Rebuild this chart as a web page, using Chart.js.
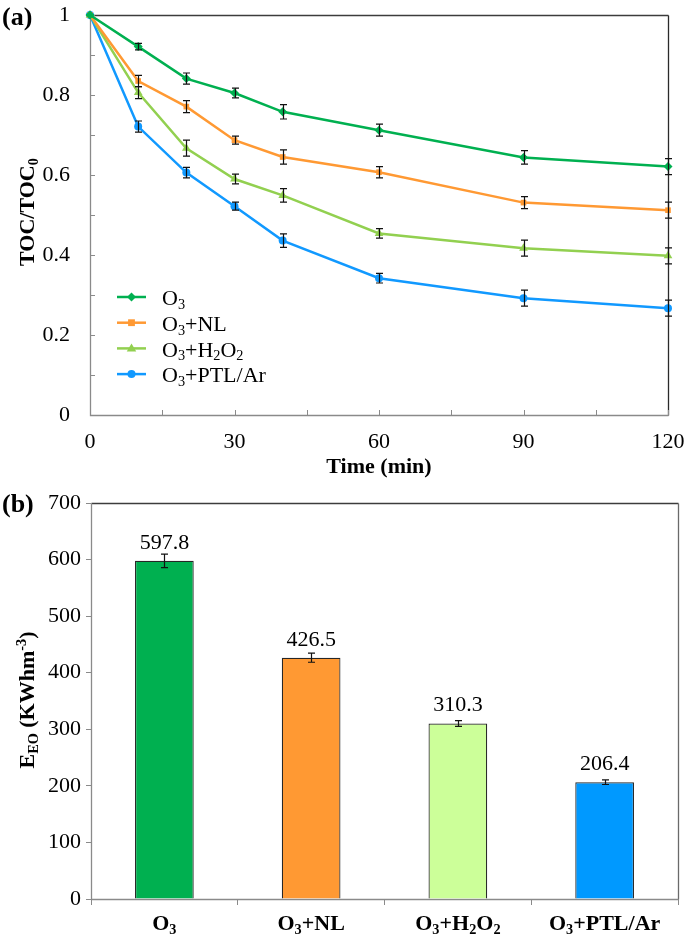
<!DOCTYPE html>
<html><head><meta charset="utf-8">
<script src="https://cdn.jsdelivr.net/npm/chart.js@4/dist/chart.umd.min.js"></script>
<style>
html,body{margin:0;padding:0;background:#fff;width:685px;height:935px;overflow:hidden}
#wa{position:absolute;left:0;top:0;width:685px;height:480px}
#wb{position:absolute;left:0;top:480px;width:685px;height:455px}
</style></head><body>
<div id="wa"><canvas id="ca"></canvas></div>
<div id="wb"><canvas id="cb"></canvas></div>
<script>
// ---------- data ----------
const timeMin = [0, 10, 20, 30, 40, 60, 90, 120];
const seriesNames = ['O_{3}', 'O_{3}+NL', 'O_{3}+H_{2}O_{2}', 'O_{3}+PTL/Ar'];
const tocO3      = [1, 0.921, 0.841, 0.805, 0.758, 0.712, 0.644, 0.621];
const tocO3Err   = [0, 0.008, 0.014, 0.012, 0.018, 0.015, 0.017, 0.020];
const tocNL      = [1, 0.835, 0.771, 0.687, 0.645, 0.607, 0.531, 0.512];
const tocNLErr   = [0, 0.014, 0.015, 0.010, 0.018, 0.014, 0.015, 0.020];
const tocH2O2    = [1, 0.806, 0.667, 0.590, 0.549, 0.454, 0.417, 0.398];
const tocH2O2Err = [0, 0.015, 0.020, 0.012, 0.017, 0.012, 0.020, 0.020];
const tocPTL     = [1, 0.721, 0.606, 0.522, 0.436, 0.342, 0.292, 0.267];
const tocPTLErr  = [0, 0.014, 0.013, 0.010, 0.017, 0.012, 0.020, 0.020];
const eeoCategories = ['O_{3}', 'O_{3}+NL', 'O_{3}+H_{2}O_{2}', 'O_{3}+PTL/Ar'];
const eeoValues = [597.8, 426.5, 310.3, 206.4];
const eeoErr    = [12, 8, 5, 4];
const titleA_x = 'Time (min)';
const titleA_y = 'TOC/TOC_{0}';
const titleB_y = 'E_{EO} (KWhm^{-3})';
const panelA = '(a)', panelB = '(b)';

// ---------- styles ----------
const FONT = '"Liberation Serif","Times New Roman",serif';
const lineColors = ['#00B050', '#FF9933', '#92D050', '#1199FF'];
const pointStyles = ['rectRot', 'rect', 'triangle', 'circle'];
const pointRadii = [4.5, 4, 5, 4];
const barColors = ['#00B050', '#FF9933', '#CCFF99', '#0099FF'];

function parseRich(s) {
  const out = []; const re = /(_|\^)\{([^}]*)\}/g; let last = 0, m;
  while ((m = re.exec(s))) {
    if (m.index > last) out.push({t: s.slice(last, m.index), k: 'n'});
    out.push({t: m[2], k: m[1] === '_' ? 'sub' : 'sup'});
    last = re.lastIndex;
  }
  if (last < s.length) out.push({t: s.slice(last), k: 'n'});
  return out;
}
function richWidth(ctx, segs, size, weight) {
  let w = 0;
  for (const s of segs) {
    ctx.font = weight + ' ' + (s.k === 'n' ? size : size * 0.65) + 'px ' + FONT;
    w += ctx.measureText(s.t).width;
  }
  return w;
}
// draws rich text; y is the visual middle of capitals
function drawRich(ctx, str, x, y, size, weight, align) {
  const segs = parseRich(str);
  const w = richWidth(ctx, segs, size, weight);
  let cx = align === 'center' ? x - w / 2 : (align === 'right' ? x - w : x);
  const base = y + size * 0.33;
  ctx.textAlign = 'left'; ctx.textBaseline = 'alphabetic'; ctx.fillStyle = '#000';
  for (const s of segs) {
    const sz = s.k === 'n' ? size : size * 0.65;
    ctx.font = weight + ' ' + sz + 'px ' + FONT;
    const by = s.k === 'sub' ? base + size * 0.17 : (s.k === 'sup' ? base - size * 0.38 : base);
    ctx.fillText(s.t, cx, by);
    cx += ctx.measureText(s.t).width;
  }
}
function drawMarker(ctx, style, r, x, y, color) {
  ctx.save(); ctx.fillStyle = color; ctx.beginPath();
  if (style === 'rectRot') { ctx.moveTo(x, y - r); ctx.lineTo(x + r, y); ctx.lineTo(x, y + r); ctx.lineTo(x - r, y); }
  else if (style === 'rect') { ctx.rect(x - r * 0.85, y - r * 0.85, r * 1.7, r * 1.7); }
  else if (style === 'triangle') { ctx.moveTo(x, y - r); ctx.lineTo(x + r * 0.95, y + r * 0.6); ctx.lineTo(x - r * 0.95, y + r * 0.6); }
  else { ctx.arc(x, y, r, 0, Math.PI * 2); }
  ctx.closePath(); ctx.fill(); ctx.restore();
}

// error bars drawn through the scales
const errorBarPlugin = {
  id: 'errbars',
  afterDatasetsDraw(chart) {
    const ctx = chart.ctx; const ys = chart.scales.y;
    ctx.save(); ctx.strokeStyle = '#111'; ctx.lineWidth = 1.2;
    chart.data.datasets.forEach((ds, di) => {
      if (!ds.errors) return;
      const meta = chart.getDatasetMeta(di);
      meta.data.forEach((el, i) => {
        const e = ds.errors[i]; if (!e) return;
        const v = typeof ds.data[i] === 'object' ? ds.data[i].y : ds.data[i];
        const x = Math.round(el.x) + 0.5, y1 = ys.getPixelForValue(v - e), y2 = ys.getPixelForValue(v + e);
        ctx.beginPath();
        ctx.moveTo(x, y1); ctx.lineTo(x, y2);
        ctx.moveTo(x - 3.5, y1); ctx.lineTo(x + 3.5, y1);
        ctx.moveTo(x - 3.5, y2); ctx.lineTo(x + 3.5, y2);
        ctx.stroke();
      });
    });
    ctx.restore();
  }
};

function frame(ctx, a, leftCol, topCol, rightCol) {
  ctx.save(); ctx.lineWidth = 1.3;
  const L = Math.round(a.left) + 0.5, R = Math.round(a.right) + 0.5, T = Math.round(a.top) + 0.5, B = Math.round(a.bottom) + 0.5;
  ctx.strokeStyle = topCol; ctx.beginPath(); ctx.moveTo(L, T); ctx.lineTo(R, T); ctx.stroke();
  ctx.strokeStyle = rightCol; ctx.beginPath(); ctx.moveTo(R, T); ctx.lineTo(R, B); ctx.stroke();
  ctx.strokeStyle = leftCol; ctx.beginPath(); ctx.moveTo(L, T); ctx.lineTo(L, B); ctx.lineTo(R, B); ctx.stroke();
  ctx.restore();
}
function noPad(s) { s.paddingLeft = 0; s.paddingRight = 0; s.paddingTop = 0; s.paddingBottom = 0; }

// ---------- chart (a) ----------
const seriesA = [tocO3, tocNL, tocH2O2, tocPTL];
const errsA = [tocO3Err, tocNLErr, tocH2O2Err, tocPTLErr];
const frameA = {
  id: 'frameA',
  beforeDatasetsDraw(chart) {
    const ctx = chart.ctx, a = chart.chartArea, xs = chart.scales.x, ys = chart.scales.y;
    frame(ctx, a, '#8a8a8a', '#3c3c3c', '#2a2a2a');
    ctx.save(); ctx.strokeStyle = '#8a8a8a'; ctx.lineWidth = 1;
    for (let v = 0.1; v < 1.0001; v += 0.1) {
      const y = Math.round(ys.getPixelForValue(v)) + 0.5;
      ctx.beginPath(); ctx.moveTo(a.left, y); ctx.lineTo(a.left + 5, y); ctx.stroke();
    }
    for (let t = 15; t <= 120; t += 15) {
      const x = Math.round(xs.getPixelForValue(t)) + 0.5;
      ctx.beginPath(); ctx.moveTo(x, a.bottom); ctx.lineTo(x, a.bottom - 5); ctx.stroke();
    }
    ctx.restore();
  },
  afterDraw(chart) {
    const ctx = chart.ctx, a = chart.chartArea;
    // legend
    chart.data.datasets.forEach((ds, i) => {
      const y = 297 + 25.7 * i;
      ctx.save(); ctx.strokeStyle = ds.borderColor; ctx.lineWidth = 2.5;
      ctx.beginPath(); ctx.moveTo(117, y); ctx.lineTo(146, y); ctx.stroke(); ctx.restore();
      drawMarker(ctx, ds.pointStyle, ds.pointRadius, 131.5, y, ds.borderColor);
      drawRich(ctx, seriesNames[i], 162, y + 1, 22, 'normal', 'left');
    });
    // titles
    drawRich(ctx, titleA_x, (a.left + a.right) / 2, 466, 22, 'bold', 'center');
    ctx.save(); ctx.translate(27, 212); ctx.rotate(-Math.PI / 2);
    drawRich(ctx, titleA_y, 0, 0, 22, 'bold', 'center'); ctx.restore();
    drawRich(ctx, panelA, 2, 16, 26, 'bold', 'left');
  }
};

new Chart(document.getElementById('ca'), {
  type: 'line',
  data: {
    datasets: seriesA.map((vals, i) => ({
      label: seriesNames[i].replace(/[_^]\{([^}]*)\}/g, '$1'),
      data: vals.map((v, j) => ({x: timeMin[j], y: v})),
      errors: errsA[i],
      borderColor: lineColors[i], backgroundColor: lineColors[i],
      borderWidth: 2.5, pointStyle: pointStyles[i], pointRadius: pointRadii[i],
      pointBorderWidth: 0, tension: 0, clip: false
    }))
  },
  options: {
    responsive: true, maintainAspectRatio: false, animation: false,
    layout: {padding: {top: 15, right: 17, left: 0, bottom: 0}},
    plugins: {legend: {display: false}, tooltip: {enabled: false}},
    scales: {
      x: {type: 'linear', min: 0, max: 120,
        ticks: {stepSize: 30, color: '#000', font: {family: FONT, size: 22}, padding: 14, maxRotation: 0},
        grid: {display: false, drawTicks: false}, border: {display: false},
        afterFit(s) { s.height = 65; noPad(s); }},
      y: {min: 0, max: 1,
        ticks: {stepSize: 0.2, color: '#000', font: {family: FONT, size: 22}, padding: 20,
          callback: v => String(+v.toFixed(1))},
        grid: {display: false, drawTicks: false}, border: {display: false},
        afterFit(s) { s.width = 90; noPad(s); }}
    }
  },
  plugins: [frameA, errorBarPlugin]
});

// ---------- chart (b) ----------
const frameB = {
  id: 'frameB',
  beforeDatasetsDraw(chart) {
    frame(chart.ctx, chart.chartArea, '#8a8a8a', '#3c3c3c', '#6a6a6a');
  },
  afterDraw(chart) {
    const ctx = chart.ctx, a = chart.chartArea, xs = chart.scales.x;
    const meta = chart.getDatasetMeta(0);
    meta.data.forEach((el, i) => {
      ctx.save(); ctx.font = '22px ' + FONT; ctx.fillStyle = '#000'; ctx.textAlign = 'center'; ctx.textBaseline = 'middle';
      ctx.fillText(eeoValues[i].toFixed(1), el.x, el.y - 18); ctx.restore();
    });
    eeoCategories.forEach((c, i) => {
      drawRich(ctx, c, xs.getPixelForValue(i), a.bottom + 24, 22, 'bold', 'center');
    });
    ctx.save(); ctx.translate(27, 220); ctx.rotate(-Math.PI / 2);
    drawRich(ctx, titleB_y, 0, 0, 22, 'bold', 'center'); ctx.restore();
    drawRich(ctx, panelB, 2, 23, 26, 'bold', 'left');
  }
};

new Chart(document.getElementById('cb'), {
  type: 'bar',
  data: {
    labels: eeoCategories.map(s => s.replace(/[_^]\{([^}]*)\}/g, '$1')),
    datasets: [{
      data: eeoValues, errors: eeoErr,
      backgroundColor: barColors, borderColor: '#262626', borderWidth: 1.2,
      barPercentage: 0.4, categoryPercentage: 1
    }]
  },
  options: {
    responsive: true, maintainAspectRatio: false, animation: false,
    layout: {padding: {top: 23, right: 7, left: 0, bottom: 0}},
    plugins: {legend: {display: false}, tooltip: {enabled: false}},
    scales: {
      x: {ticks: {display: false},
        grid: {display: true, drawOnChartArea: false, offset: true, tickLength: 6, color: '#8a8a8a'},
        border: {display: false}, afterFit(s) { s.height = 36; noPad(s); }},
      y: {min: 0, max: 700,
        ticks: {stepSize: 100, color: '#000', font: {family: FONT, size: 22}, padding: 5},
        grid: {drawOnChartArea: false, tickLength: 5, color: '#8a8a8a'},
        border: {display: false}, afterFit(s) { s.width = 91; noPad(s); }}
    }
  },
  plugins: [frameB, errorBarPlugin]
});
</script>
</body></html>
